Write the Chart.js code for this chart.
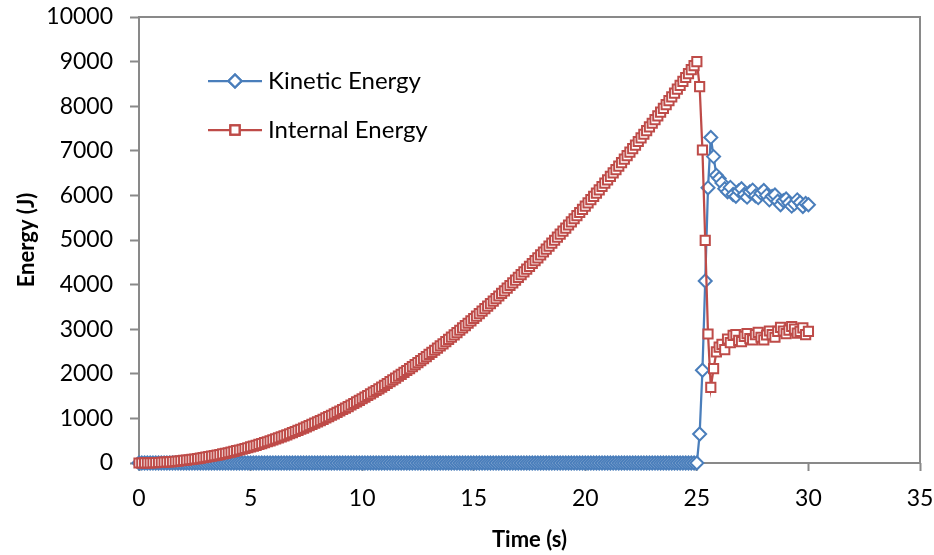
<!DOCTYPE html>
<html>
<head>
<meta charset="utf-8">
<title>Energy vs Time</title>
<script src="https://cdn.jsdelivr.net/npm/chart.js@4"></script>
<style>
  html, body { margin: 0; padding: 0; background: #fff; }
  #wrap { width: 934px; height: 555px; position: relative; }
</style>
</head>
<body>
<div id="wrap"><canvas id="energyChart" width="934" height="555"></canvas></div>
<script>
// time samples (s)
const time = [
  0, 0.125, 0.25, 0.375, 0.5, 0.625, 0.75, 0.875,
  1, 1.125, 1.25, 1.375, 1.5, 1.625, 1.75, 1.875,
  2, 2.125, 2.25, 2.375, 2.5, 2.625, 2.75, 2.875,
  3, 3.125, 3.25, 3.375, 3.5, 3.625, 3.75, 3.875,
  4, 4.125, 4.25, 4.375, 4.5, 4.625, 4.75, 4.875,
  5, 5.125, 5.25, 5.375, 5.5, 5.625, 5.75, 5.875,
  6, 6.125, 6.25, 6.375, 6.5, 6.625, 6.75, 6.875,
  7, 7.125, 7.25, 7.375, 7.5, 7.625, 7.75, 7.875,
  8, 8.125, 8.25, 8.375, 8.5, 8.625, 8.75, 8.875,
  9, 9.125, 9.25, 9.375, 9.5, 9.625, 9.75, 9.875,
  10, 10.125, 10.25, 10.375, 10.5, 10.625, 10.75, 10.875,
  11, 11.125, 11.25, 11.375, 11.5, 11.625, 11.75, 11.875,
  12, 12.125, 12.25, 12.375, 12.5, 12.625, 12.75, 12.875,
  13, 13.125, 13.25, 13.375, 13.5, 13.625, 13.75, 13.875,
  14, 14.125, 14.25, 14.375, 14.5, 14.625, 14.75, 14.875,
  15, 15.125, 15.25, 15.375, 15.5, 15.625, 15.75, 15.875,
  16, 16.125, 16.25, 16.375, 16.5, 16.625, 16.75, 16.875,
  17, 17.125, 17.25, 17.375, 17.5, 17.625, 17.75, 17.875,
  18, 18.125, 18.25, 18.375, 18.5, 18.625, 18.75, 18.875,
  19, 19.125, 19.25, 19.375, 19.5, 19.625, 19.75, 19.875,
  20, 20.125, 20.25, 20.375, 20.5, 20.625, 20.75, 20.875,
  21, 21.125, 21.25, 21.375, 21.5, 21.625, 21.75, 21.875,
  22, 22.125, 22.25, 22.375, 22.5, 22.625, 22.75, 22.875,
  23, 23.125, 23.25, 23.375, 23.5, 23.625, 23.75, 23.875,
  24, 24.125, 24.25, 24.375, 24.5, 24.625, 24.75, 24.875,
  25, 25.125, 25.25, 25.375, 25.5, 25.625, 25.75, 25.875,
  26, 26.125, 26.25, 26.375, 26.5, 26.625, 26.75, 26.875,
  27, 27.125, 27.25, 27.375, 27.5, 27.625, 27.75, 27.875,
  28, 28.125, 28.25, 28.375, 28.5, 28.625, 28.75, 28.875,
  29, 29.125, 29.25, 29.375, 29.5, 29.625, 29.75, 29.875,
  30
];

// kinetic energy (J)
const kinetic = [
  0, 0, 0, 0, 0, 0, 0, 0,  0, 0, 0, 0, 0, 0, 0, 0,
  0, 0, 0, 0, 0, 0, 0, 0,  0, 0, 0, 0, 0, 0, 0, 0,
  0, 0, 0, 0, 0, 0, 0, 0,  0, 0, 0, 0, 0, 0, 0, 0,
  0, 0, 0, 0, 0, 0, 0, 0,  0, 0, 0, 0, 0, 0, 0, 0,
  0, 0, 0, 0, 0, 0, 0, 0,  0, 0, 0, 0, 0, 0, 0, 0,
  0, 0, 0, 0, 0, 0, 0, 0,  0, 0, 0, 0, 0, 0, 0, 0,
  0, 0, 0, 0, 0, 0, 0, 0,  0, 0, 0, 0, 0, 0, 0, 0,
  0, 0, 0, 0, 0, 0, 0, 0,  0, 0, 0, 0, 0, 0, 0, 0,
  0, 0, 0, 0, 0, 0, 0, 0,  0, 0, 0, 0, 0, 0, 0, 0,
  0, 0, 0, 0, 0, 0, 0, 0,  0, 0, 0, 0, 0, 0, 0, 0,
  0, 0, 0, 0, 0, 0, 0, 0,  0, 0, 0, 0, 0, 0, 0, 0,
  0, 0, 0, 0, 0, 0, 0, 0,  0, 0, 0, 0, 0, 0, 0, 0,
  0, 0, 0, 0, 0, 0, 0, 0,
  0, 650, 2080, 4080, 6170, 7300, 6870, 6450,
  6380, 6280, 6150, 6080, 6180, 6020, 5980, 6100,
  6150, 6020, 5960, 6080, 6120, 5990, 5950, 6050,
  6110, 6000, 5900, 5980, 6010, 5870, 5790, 5880,
  5920, 5830, 5760, 5810, 5900, 5840, 5750, 5820,
  5790
];

// internal energy (J)
const internal = [
  0, 0, 1, 2, 4, 6, 8, 11,
  14, 18, 23, 27, 32, 38, 44, 51,
  58, 65, 73, 81, 90, 99, 109, 119,
  130, 141, 152, 164, 176, 189, 203, 216,
  230, 245, 260, 276, 292, 308, 325, 342,
  360, 378, 397, 416, 436, 456, 476, 497,
  518, 540, 563, 585, 608, 632, 656, 681,
  706, 731, 757, 783, 810, 837, 865, 893,
  922, 951, 980, 1010, 1040, 1071, 1103, 1134,
  1166, 1199, 1232, 1266, 1300, 1334, 1369, 1404,
  1440, 1476, 1513, 1550, 1588, 1626, 1664, 1703,
  1742, 1782, 1823, 1863, 1904, 1946, 1988, 2031,
  2074, 2117, 2161, 2205, 2250, 2295, 2341, 2387,
  2434, 2481, 2528, 2576, 2624, 2673, 2723, 2772,
  2822, 2873, 2924, 2976, 3028, 3080, 3133, 3186,
  3240, 3294, 3349, 3404, 3460, 3516, 3572, 3629,
  3686, 3744, 3803, 3861, 3920, 3980, 4040, 4101,
  4162, 4223, 4285, 4347, 4410, 4473, 4537, 4601,
  4666, 4731, 4796, 4862, 4928, 4995, 5063, 5130,
  5198, 5267, 5336, 5406, 5476, 5546, 5617, 5688,
  5760, 5832, 5905, 5978, 6052, 6126, 6200, 6275,
  6350, 6426, 6503, 6579, 6656, 6734, 6812, 6891,
  6970, 7049, 7129, 7209, 7290, 7371, 7453, 7535,
  7618, 7701, 7784, 7868, 7952, 8037, 8123, 8208,
  8294, 8381, 8468, 8556, 8644, 8732, 8821, 8910,
  9000, 8437, 7018, 4993, 2892, 1697, 2114, 2490,
  2600, 2660, 2540, 2780, 2700, 2860, 2880, 2750,
  2720, 2840, 2900, 2790, 2760, 2880, 2930, 2820,
  2760, 2870, 2960, 2880, 2820, 2950, 3040, 2960,
  2900, 2980, 3060, 3000, 2910, 2950, 3030, 2880,
  2950
];

const seriesNames = ['Kinetic Energy', 'Internal Energy'];
const seriesColors = ['#4A7EBB', '#BE4B48'];
const seriesMarkers = ['rectRot', 'rect'];

const FONT = "Lato, 'Open Sans', sans-serif";
const AXIS_GRAY = '#898989';
const MARKER_R = 6.5;

function toPoints(ys) {
  return time.map((t, i) => ({ x: t, y: ys[i] }));
}

// box around the plot area
const frame = {
  id: 'frame',
  beforeDatasetsDraw(chart) {
    const a = chart.chartArea;
    const ctx = chart.ctx;
    ctx.save();
    ctx.strokeStyle = AXIS_GRAY;
    ctx.lineWidth = 2;
    ctx.strokeRect(a.left, a.top, a.right - a.left, a.bottom - a.top);
    ctx.restore();
  }
};

// legend drawn inside the plot area
const innerLegend = {
  id: 'innerLegend',
  afterDraw(chart) {
    const a = chart.chartArea;
    const ctx = chart.ctx;
    ctx.save();
    seriesNames.forEach((name, i) => {
      const y = a.top + 64 + i * 49;
      const x0 = a.left + 69;
      ctx.strokeStyle = seriesColors[i];
      ctx.lineWidth = 2.25;
      ctx.beginPath();
      ctx.moveTo(x0, y);
      ctx.lineTo(x0 + 54, y);
      ctx.stroke();
      ctx.fillStyle = '#fff';
      Chart.helpers.drawPoint(ctx, {
        pointStyle: seriesMarkers[i], radius: MARKER_R, borderWidth: 2, rotation: 0
      }, x0 + 27, y);
      ctx.fill();
      ctx.stroke();
      ctx.fillStyle = '#000';
      ctx.font = '24px ' + FONT;
      ctx.textBaseline = 'middle';
      ctx.textAlign = 'left';
      ctx.fillText(name, x0 + 60, y);
    });
    ctx.restore();
  }
};

function dataset(i, ys, order) {
  return {
    label: seriesNames[i],
    data: toPoints(ys),
    borderColor: seriesColors[i],
    backgroundColor: '#fff',
    borderWidth: 2.25,
    pointStyle: seriesMarkers[i],
    pointRadius: MARKER_R,
    pointBorderWidth: 2,
    pointBackgroundColor: '#fff',
    pointBorderColor: seriesColors[i],
    tension: 0,
    clip: false,
    order: order
  };
}

new Chart(document.getElementById('energyChart'), {
  type: 'line',
  data: {
    datasets: [dataset(0, kinetic, 1), dataset(1, internal, 0)]
  },
  options: {
    responsive: false,
    animation: false,
    layout: { padding: { left: 0, right: 14, top: 17, bottom: 0 } },
    plugins: { legend: { display: false }, tooltip: { enabled: false } },
    scales: {
      x: {
        type: 'linear',
        min: 0, max: 35,
        ticks: { stepSize: 5, color: '#000', padding: 14, font: { family: FONT, size: 23 },
          callback: v => String(v) },
        grid: { drawOnChartArea: false, tickLength: 8, tickColor: AXIS_GRAY, tickWidth: 2 },
        border: { display: false },
        title: { display: true, text: 'Time (s)', color: '#000', padding: { top: 0, bottom: 2 }, font: { family: FONT, size: 22, weight: 'bold' } },
        afterFit(s) { s.height = 92; s.paddingLeft = 0; s.paddingRight = 0; }
      },
      y: {
        min: 0, max: 10000,
        ticks: { stepSize: 1000, color: '#000', padding: 17, font: { family: FONT, size: 23 },
          callback: v => String(v) },
        grid: { drawOnChartArea: false, tickLength: 9, tickColor: AXIS_GRAY, tickWidth: 2 },
        border: { display: false },
        title: { display: true, text: 'Energy (J)', color: '#000', padding: { top: 14, bottom: 0 }, font: { family: FONT, size: 22, weight: 'bold' } },
        afterFit(s) { s.width = 139; s.paddingTop = 0; s.paddingBottom = 0; }
      }
    }
  },
  plugins: [frame, innerLegend]
});
</script>
</body>
</html>
